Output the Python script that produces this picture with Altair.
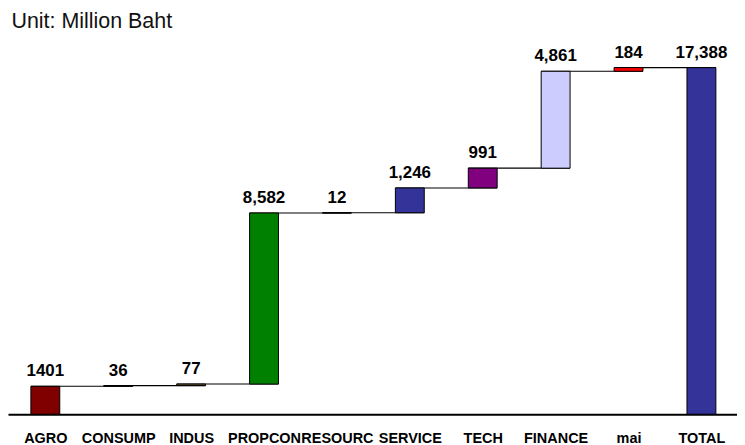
import altair as alt
import pandas as pd

categories = ["AGRO", "CONSUMP", "INDUS", "PROPCON", "RESOURC", "SERVICE", "TECH", "FINANCE", "mai", "TOTAL"]
values = [1401, 36, 77, 8582, 12, 1246, 991, 4861, 184, 17388]
labels = ["1401", "36", "77", "8,582", "12", "1,246", "991", "4,861", "184", "17,388"]
colors = ["#800000", "#333333", "#806633", "#008000", "#333333", "#333399", "#800080", "#CCCCFF", "#FF0000", "#333399"]

rows = []
cum = 0
for i, (c, v, lab) in enumerate(zip(categories, values, labels)):
    if c == "TOTAL":
        start, end = 0, v
    else:
        start, end = cum, cum + v
        cum = end
    rows.append({"idx": i, "cat": c, "start": start, "end": end, "label": lab})
df = pd.DataFrame(rows)

hw = 0.198
conn = pd.DataFrame([
    {"lx": rows[i]["idx"] - hw, "rx": rows[i + 1]["idx"] + hw, "y": rows[i]["end"]}
    for i in range(len(rows) - 1)
])

label_expr = "[" + ",".join("'%s'" % c for c in categories) + "][datum.value]"

ymax = 20336
x0 = -0.512
xscale = alt.Scale(domain=[x0, x0 + len(categories)], nice=False, zero=False, padding=0)
yscale = alt.Scale(domain=[0, ymax], nice=False, padding=0)

xaxis = alt.Axis(values=list(range(len(categories))), labelExpr=label_expr, title=None,
                 grid=False, ticks=False, domainColor="black", domainWidth=2,
                 labelFont="Liberation Sans", labelFontWeight="bold", labelFontSize=14.5,
                 labelColor="black", labelPadding=17, labelOverlap=False)

base = alt.Chart(df)

bars = base.mark_bar(size=29, stroke="black", strokeWidth=1).encode(
    x=alt.X("idx:Q", scale=xscale, axis=xaxis),
    y=alt.Y("start:Q", scale=yscale, axis=None),
    y2="end:Q",
    color=alt.Color("cat:N", scale=alt.Scale(domain=categories, range=colors), legend=None),
)

connectors = alt.Chart(conn).mark_rule(color="black", strokeWidth=1.1).encode(
    x=alt.X("lx:Q", scale=xscale, axis=xaxis),
    x2="rx:Q",
    y=alt.Y("y:Q", scale=yscale, axis=None),
)

texts = base.mark_text(font="Liberation Sans", fontWeight="bold", fontSize=17,
                       baseline="alphabetic", dy=-10, color="black").encode(
    x=alt.X("idx:Q", scale=xscale, axis=xaxis),
    y=alt.Y("end:Q", scale=yscale, axis=None),
    text="label:N",
)

unit = alt.Chart(pd.DataFrame({"t": ["Unit: Million Baht"], "ux": [x0], "uy": [ymax]})).mark_text(
    font="Liberation Sans", fontSize=21.5, align="left", baseline="alphabetic", color="#111111",
    dx=3.5, dy=19
).encode(x=alt.X("ux:Q", scale=xscale, axis=xaxis),
         y=alt.Y("uy:Q", scale=yscale, axis=None), text="t:N")

chart = alt.layer(connectors, bars, texts, unit).properties(
    width=732, height=407, padding=0
).configure_view(strokeWidth=0)

chart.save("out.html", embed_options={"renderer": "svg", "actions": False})
